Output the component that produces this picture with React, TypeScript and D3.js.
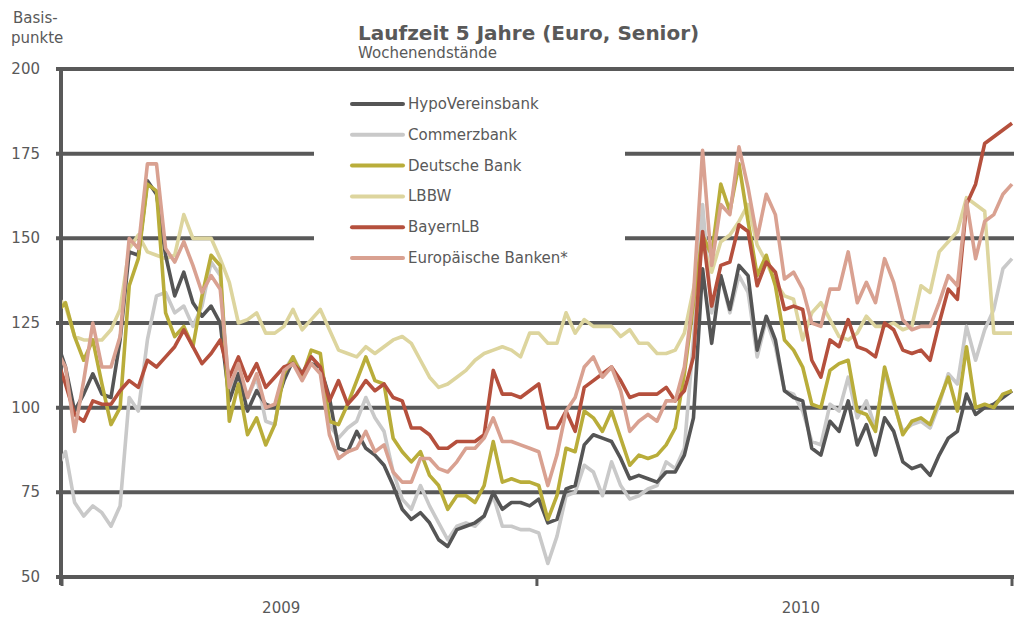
import React, { useEffect, useRef } from 'react';
import * as d3 from 'd3';

// Wochenendstände in Basispunkten; erster Wert liegt links vor der Achse (wird abgeschnitten)
const hypoVereinsbank = [120,
  112, 99, 104, 110, 104, 103, 120, 146, 145, 167,
  163, 145, 133, 140, 131, 127, 130, 125, 102, 110,
  99, 105, 101, 100, 108, 114, 110, 113, 112, 103,
  88, 87, 93, 88, 86, 83, 77, 70, 67, 69,
  66, 61, 59, 64, 65, 66, 68, 75, 70, 72,
  72, 71, 73, 66, 67, 76, 77, 89, 92, 91,
  90, 85, 79, 80, 79, 78, 81, 81, 86, 97,
  141, 119, 139, 129, 142, 139, 117, 127, 120, 105,
  103, 102, 88, 86, 96, 93, 102, 89, 95, 86,
  97, 93, 84, 82, 83, 80, 86, 91, 93, 104,
  98, 100, 101, 103, 105];
const commerzbank = [82,
  87, 72, 68, 71, 69, 65, 71, 103, 99, 120,
  133, 134, 128, 130, 124, 130, 143, 139, 104, 111,
  103, 109, 96, 95, 111, 115, 110, 115, 112, 95,
  91, 94, 96, 103, 97, 93, 81, 73, 70, 77,
  71, 66, 61, 65, 66, 65, 68, 74, 65, 65,
  64, 64, 63, 54, 62, 74, 75, 83, 81, 74,
  84, 77, 73, 74, 76, 77, 84, 82, 88, 120,
  160, 128, 139, 128, 139, 134, 115, 126, 118, 105,
  104, 99, 90, 89, 101, 99, 109, 97, 102, 94,
  111, 101, 93, 95, 96, 94, 101, 110, 107, 124,
  114, 123, 129, 141, 144];
const deutscheBank = [128,
  131, 121, 114, 120, 107, 95, 100, 136, 144, 166,
  164, 128, 121, 124, 118, 133, 145, 142, 96, 107,
  92, 97, 89, 95, 110, 115, 109, 117, 116, 96,
  95, 101, 108, 115, 108, 107, 91, 87, 84, 87,
  80, 77, 70, 74, 74, 72, 77, 90, 78, 79,
  78, 78, 77, 67, 74, 88, 87, 99, 97, 93,
  99, 91, 83, 86, 85, 86, 89, 94, 110, 131,
  151, 145, 166, 158, 172, 155, 139, 145, 136, 120,
  117, 112, 101, 100, 111, 113, 114, 99, 98, 93,
  112, 102, 92, 96, 97, 95, 102, 109, 99, 118,
  100, 101, 100, 104, 105];
const lbbw = [133,
  130, 121, 120, 120, 120, 123, 129, 147, 151, 146,
  145, 144, 145, 157, 150, 150, 150, 144, 137, 125,
  126, 128, 122, 122, 124, 129, 123, 126, 129, 123,
  117, 116, 115, 118, 116, 118, 120, 121, 119, 114,
  109, 106, 107, 109, 111, 114, 116, 117, 118, 117,
  115, 122, 122, 119, 119, 128, 122, 126, 124, 124,
  124, 121, 123, 119, 119, 116, 116, 117, 122, 135,
  148, 140, 149, 151, 155, 160, 148, 143, 137, 133,
  132, 120, 128, 131, 126, 121, 120, 122, 127, 124,
  124, 125, 123, 124, 136, 134, 146, 149, 152, 162,
  160, 158, 122, 122, 122];
const bayernLB = [115,
  107, 98, 96, 102, 101, 101, 105, 108, 106, 114,
  112, 115, 118, 123, 118, 113, 116, 120, 109, 115,
  108, 113, 106, 109, 112, 113, 110, 115, 112, 102,
  108, 101, 104, 108, 105, 107, 103, 102, 94, 94,
  92, 88, 88, 90, 90, 90, 92, 111, 104, 104,
  103, 105, 107, 94, 94, 99, 93, 106, 108, 110,
  112, 108, 103, 104, 104, 104, 106, 102, 105, 115,
  152, 130, 142, 143, 154, 152, 136, 143, 140, 129,
  130, 129, 114, 109, 120, 118, 126, 118, 117, 115,
  125, 123, 117, 116, 117, 114, 125, 135, 132, 160,
  166, 178, 180, 182, 184];
const europBanken = [117,
  112, 93, 108, 125, 112, 112, 121, 150, 147, 172,
  172, 147, 143, 149, 142, 134, 139, 135, 106, 113,
  103, 110, 100, 101, 111, 113, 108, 113, 110, 92,
  85, 87, 88, 93, 87, 89, 81, 78, 78, 85,
  85, 82, 81, 84, 88, 88, 91, 97, 90, 90,
  89, 88, 87, 77, 86, 99, 103, 112, 115, 109,
  112, 105, 93, 96, 98, 96, 102, 102, 112, 133,
  176, 142, 160, 157, 177, 165, 150, 163, 157, 138,
  140, 135, 125, 124, 135, 135, 146, 131, 137, 131,
  144, 137, 126, 123, 124, 124, 131, 139, 136, 161,
  144, 155, 157, 163, 166];

const seriesNames = ['HypoVereinsbank', 'Commerzbank', 'Deutsche Bank', 'LBBW', 'BayernLB', 'Europäische Banken*'];
const seriesColors = ['#555555', '#c9c9c9', '#b9ad3a', '#ddd59e', '#b5503d', '#d9a191'];
const yTicks = [50, 75, 100, 125, 150, 175, 200];
const yearLabels = ['2009', '2010'];
// Positionen in Wochen (Index), Achse beginnt bei Woche 0.615
const yearBounds = [0.615, 52.8, 105];
const yearLabelPos = [24.7, 81.8];

const App = () => {
  const ref = useRef<SVGSVGElement>(null);

  useEffect(() => {
    const svg = d3.select(ref.current);
    svg.selectAll('*').remove();

    const values = [hypoVereinsbank, commerzbank, deutscheBank, lbbw, bayernLB, europBanken];
    const font = 'DejaVu Sans, Verdana, sans-serif';
    const grey = '#595959';

    const x = d3.scaleLinear().domain([0, hypoVereinsbank.length - 1]).range([56.4, 1012]);
    const y = d3.scaleLinear().domain([50, 200]).range([577, 69]);

    svg.append('defs').append('clipPath').attr('id', 'plot')
      .append('rect').attr('x', x(yearBounds[0])).attr('y', 0).attr('width', 1016).attr('height', 618);

    // Gitterlinien + y-Achse
    svg.append('g').selectAll('line').data(yTicks).enter().append('line')
      .attr('x1', 56).attr('x2', 1014)
      .attr('y1', d => y(d)).attr('y2', d => y(d))
      .attr('stroke', grey).attr('stroke-width', 4);

    svg.append('g').selectAll('text').data(yTicks).enter().append('text')
      .attr('x', 40).attr('y', d => y(d) + 5)
      .attr('text-anchor', 'end')
      .attr('font-family', font).attr('font-size', 15).attr('fill', grey)
      .text(d => d);

    svg.append('line')
      .attr('x1', 61).attr('x2', 61).attr('y1', y(200) - 2).attr('y2', y(50) + 8)
      .attr('stroke', grey).attr('stroke-width', 4);

    // Jahres-Ticks
    svg.append('g').selectAll('line').data(yearBounds).enter().append('line')
      .attr('x1', d => x(d)).attr('x2', d => x(d))
      .attr('y1', y(50)).attr('y2', y(50) + 9)
      .attr('stroke', grey).attr('stroke-width', 3);

    svg.append('g').selectAll('text').data(yearLabels).enter().append('text')
      .attr('x', (d, i) => x(yearLabelPos[i]))
      .attr('y', 613)
      .attr('text-anchor', 'middle')
      .attr('font-family', font).attr('font-size', 15).attr('fill', grey)
      .text(d => d);

    // Legenden-Hintergrund verdeckt die Gitterlinien
    svg.append('rect')
      .attr('x', 314).attr('y', 80).attr('width', 311).attr('height', 205)
      .attr('fill', '#ffffff');

    // Linien
    const line = d3.line<number>()
      .x((d, i) => x(i))
      .y(d => y(d));

    const order = [1, 3, 0, 2, 4, 5];
    svg.append('g').attr('clip-path', 'url(#plot)')
      .selectAll('path').data(order).enter().append('path')
      .attr('d', k => line(values[k]))
      .attr('fill', 'none')
      .attr('stroke', k => seriesColors[k])
      .attr('stroke-width', 3.6)
      .attr('stroke-linejoin', 'round');

    // Legende
    const legend = svg.append('g').selectAll('g').data(seriesNames).enter().append('g')
      .attr('transform', (d, i) => `translate(352,${104 + i * 30.8})`);
    legend.append('line')
      .attr('x1', 0).attr('x2', 51).attr('y1', 0).attr('y2', 0)
      .attr('stroke', (d, i) => seriesColors[i])
      .attr('stroke-width', 4).attr('stroke-linecap', 'round');
    legend.append('text')
      .attr('x', 56).attr('y', 5)
      .attr('font-family', font).attr('font-size', 15).attr('fill', grey)
      .text(d => d);

    // Titel und Achsenbeschriftung
    svg.append('text')
      .attr('x', 358).attr('y', 40)
      .attr('font-family', font).attr('font-size', 20).attr('font-weight', 'bold').attr('fill', grey)
      .text('Laufzeit 5 Jahre (Euro, Senior)');
    svg.append('text')
      .attr('x', 358).attr('y', 58)
      .attr('font-family', font).attr('font-size', 15).attr('fill', grey)
      .text('Wochenendstände');
    svg.append('text')
      .attr('x', 13).attr('y', 23)
      .attr('font-family', font).attr('font-size', 15).attr('fill', grey)
      .text('Basis-');
    svg.append('text')
      .attr('x', 11).attr('y', 43)
      .attr('font-family', font).attr('font-size', 15).attr('fill', grey)
      .text('punkte');
  }, []);

  return (
    <div style={{ position: 'absolute', left: 0, top: 0 }}>
      <svg ref={ref} width={1016} height={618} style={{ display: 'block', background: '#fff' }} />
    </div>
  );
};

export default App;
